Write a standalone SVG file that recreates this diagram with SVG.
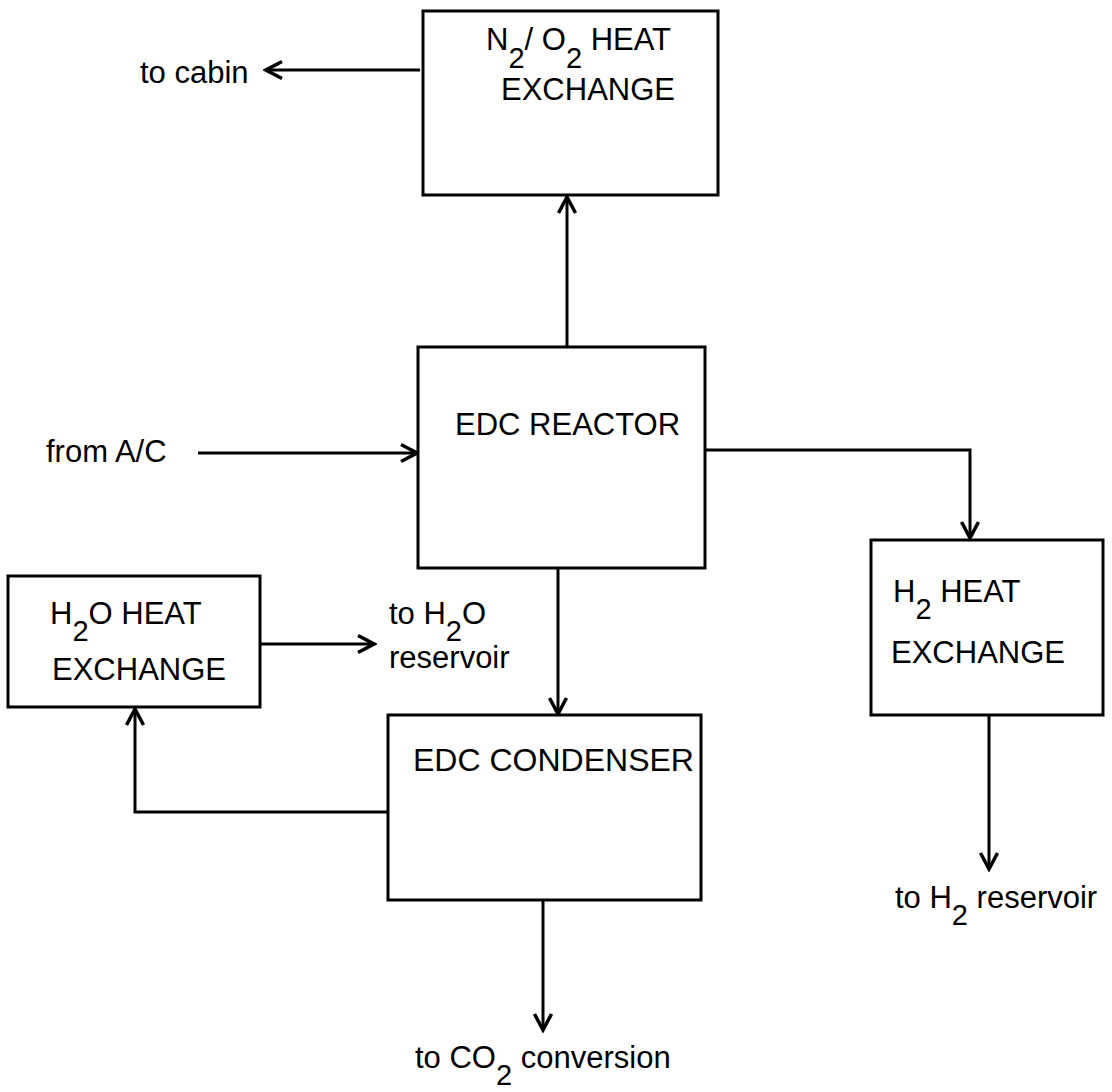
<svg xmlns="http://www.w3.org/2000/svg" width="1112" height="1092" viewBox="0 0 1112 1092">
<style>
.box{fill:#fff;stroke:#000;stroke-width:3}
.ln{fill:none;stroke:#000;stroke-width:3}
text{font-family:"Liberation Sans",Arial,sans-serif;font-size:31px;fill:#000}
.sub{font-size:29px}
</style>
<defs>
<marker id="ah" viewBox="0 0 24 24" refX="21" refY="12" markerWidth="24" markerHeight="24" markerUnits="userSpaceOnUse" orient="auto">
<path d="M5,3.5 L21,12 L5,20.5" fill="none" stroke="#000" stroke-width="3.5"/>
</marker>
</defs>
<rect width="1112" height="1092" fill="#fff"/>
<g id="connectors">
<line class="ln" x1="420" y1="70" x2="266" y2="70" marker-end="url(#ah)"/>
<line class="ln" x1="567" y1="347" x2="567" y2="197" marker-end="url(#ah)"/>
<line class="ln" x1="198" y1="453" x2="417" y2="453" marker-end="url(#ah)"/>
<polyline class="ln" points="705,450 970,450 970,538" marker-end="url(#ah)"/>
<line class="ln" x1="558" y1="568" x2="558" y2="714" marker-end="url(#ah)"/>
<polyline class="ln" points="388,812 135,812 135,709" marker-end="url(#ah)"/>
<line class="ln" x1="260" y1="644" x2="374" y2="644" marker-end="url(#ah)"/>
<line class="ln" x1="989" y1="715" x2="989" y2="869" marker-end="url(#ah)"/>
<line class="ln" x1="543" y1="900" x2="543" y2="1030" marker-end="url(#ah)"/>
</g>
<g id="n2o2-hx">
<rect class="box" x="423" y="11" width="295" height="184"/>
<text x="486" y="50">N<tspan class="sub" dy="18">2</tspan><tspan dy="-18">/ O</tspan><tspan class="sub" dy="18">2</tspan><tspan dy="-18"> HEAT</tspan></text>
<text x="501" y="100">EXCHANGE</text>
</g>
<g id="to-cabin"><text x="140" y="83">to cabin</text></g>
<g id="reactor">
<rect class="box" x="418" y="347" width="287" height="221"/>
<text x="455" y="435">EDC REACTOR</text>
</g>
<g id="from-ac"><text x="46" y="462">from A/C</text></g>
<g id="h2-hx">
<rect class="box" x="871" y="540" width="232" height="175"/>
<text x="893" y="602">H<tspan class="sub" dy="17">2</tspan><tspan dy="-17"> HEAT</tspan></text>
<text x="891" y="663">EXCHANGE</text>
</g>
<g id="to-h2-res"><text x="895" y="908">to H<tspan class="sub" dy="17">2</tspan><tspan dy="-17"> reservoir</tspan></text></g>
<g id="h2o-hx">
<rect class="box" x="8" y="576" width="252" height="131"/>
<text x="50" y="624">H<tspan class="sub" dy="17">2</tspan><tspan dy="-17">O HEAT</tspan></text>
<text x="52" y="680">EXCHANGE</text>
</g>
<g id="to-h2o-res">
<text x="389" y="624">to H<tspan class="sub" dy="17">2</tspan><tspan dy="-17">O</tspan></text>
<text x="389" y="668">reservoir</text>
</g>
<g id="condenser">
<rect class="box" x="388" y="715" width="313" height="185"/>
<text x="413" y="771" style="font-size:32px">EDC CONDENSER</text>
</g>
<g id="to-co2"><text x="415" y="1068">to CO<tspan class="sub" dy="17">2</tspan><tspan dy="-17"> conversion</tspan></text></g>
</svg>
